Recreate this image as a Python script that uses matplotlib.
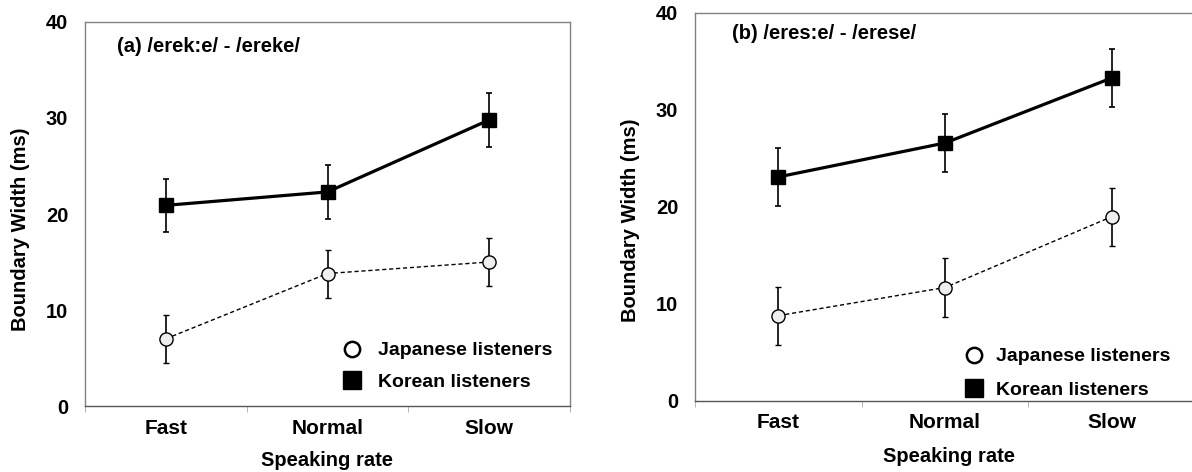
import matplotlib
matplotlib.use('Agg')
import matplotlib.pyplot as plt
from matplotlib.lines import Line2D

plt.rcParams['font.family'] = ['Liberation Sans', 'DejaVu Sans']
plt.rcParams['font.weight'] = 'bold'

## data
rates = ['Fast', 'Normal', 'Slow']

# (a) /erek:e/ - /ereke/
a_jp = [7.0, 13.8, 15.0]
a_jp_err = [2.5, 2.5, 2.5]
a_kr = [20.9, 22.3, 29.8]
a_kr_err = [2.75, 2.8, 2.8]

# (b) /eres:e/ - /erese/
b_jp = [8.8, 11.7, 19.0]
b_jp_err = [3.0, 3.0, 3.0]
b_kr = [23.1, 26.6, 33.3]
b_kr_err = [3.0, 3.0, 3.0]

W, H = 1192, 472
fig = plt.figure(figsize=(W / 100, H / 100), dpi=100)

def px_axes(left, top, right, bottom):
    return fig.add_axes([left / W, 1 - bottom / H, (right - left) / W, (bottom - top) / H])

ax_a = px_axes(85, 22, 570, 406)
ax_b = px_axes(695, 13, 1195, 401)

panels = [
    (ax_a, '(a) /erek:e/ - /ereke/', a_jp, a_jp_err, a_kr, a_kr_err,
     (0.066, 0.935), (-0.134, 0.46), (0.499, -0.141), (0.53, 0.167), 0.85, 0.71),
    (ax_b, '(b) /eres:e/ - /erese/', b_jp, b_jp_err, b_kr, b_kr_err,
     (0.074, 0.948), (-0.128, 0.466), (0.508, -0.144), (0.538, 0.137), 0.65, 0.81),
]

x = list(range(1, len(rates) + 1))
for ax, title, jp, jp_err, kr, kr_err, tpos, ylpos, xlpos, legpos, htp, lsp in panels:
    ax.errorbar(x, jp, yerr=jp_err, color='black', linestyle=(0, (3, 2)), linewidth=1.0,
                marker='o', markersize=9.5, markerfacecolor='#eeeeee', markeredgecolor='black',
                markeredgewidth=1.0, ecolor='black', elinewidth=1.2, capsize=2.5, capthick=1.2,
                zorder=3)
    ax.errorbar(x, kr, yerr=kr_err, color='black', linestyle='-', linewidth=2.3,
                marker='s', markersize=10.5, markerfacecolor='black', markeredgecolor='black',
                ecolor='black', elinewidth=1.2, capsize=2.5, capthick=1.2, zorder=4)

    ax.set_xlim(0.5, 3.5)
    ax.set_ylim(0, 40)
    ax.set_yticks([0, 10, 20, 30, 40])
    ax.set_xticks(x)
    ax.set_xticklabels(rates, fontsize=15, fontweight='bold')
    ax.set_xticks([0.5, 1.5, 2.5, 3.5], minor=True)
    ax.tick_params(axis='x', which='major', length=0, pad=9)
    ax.tick_params(axis='x', which='minor', length=4, color='#aaaaaa', direction='out')
    ax.tick_params(axis='y', length=0, pad=12, labelsize=14.5)
    for lab in ax.get_yticklabels():
        lab.set_fontweight('bold')

    for s in ax.spines.values():
        s.set_color('#808080')
        s.set_linewidth(1.0)
    ax.spines['bottom'].set_color('#555555')

    ax.text(tpos[0], tpos[1], title, transform=ax.transAxes, fontsize=14.5,
            fontweight='bold', va='center', ha='left')

    ax.set_ylabel('Boundary Width (ms)', fontsize=14.5, fontweight='bold')
    ax.yaxis.set_label_coords(*ylpos)
    ax.yaxis.label.set_va('center')
    ax.set_xlabel('Speaking rate', fontsize=14.5, fontweight='bold')
    ax.xaxis.set_label_coords(*xlpos)
    ax.xaxis.label.set_va('center')

    handles = [
        Line2D([], [], linestyle='none', marker='o', markersize=11, markerfacecolor='white',
               markeredgecolor='black', markeredgewidth=1.8),
        Line2D([], [], linestyle='none', marker='s', markersize=13, markerfacecolor='black',
               markeredgecolor='black'),
    ]
    ax.legend(handles, ['Japanese listeners', 'Korean listeners'], loc='upper left',
              bbox_to_anchor=legpos, frameon=False, borderpad=0, borderaxespad=0,
              handlelength=1.0, handletextpad=htp, labelspacing=lsp,
              prop={'size': 14, 'weight': 'bold'})

fig.savefig('out.png', dpi=100)
